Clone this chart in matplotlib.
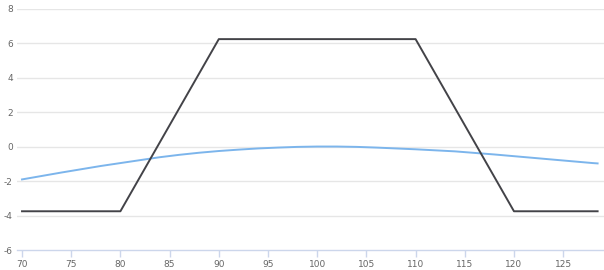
import matplotlib
matplotlib.use("Agg")
import matplotlib.pyplot as plt

# Data
payoff_x = [70, 80, 90, 110, 120, 128.5]
payoff_y = [-3.75, -3.75, 6.25, 6.25, -3.75, -3.75]

value_x = [70, 72, 74, 76, 78, 80, 82, 84, 86, 88, 90, 92, 94, 96, 98, 100,
           102, 104, 106, 108, 110, 112, 114, 116, 118, 120, 122, 124, 126, 128, 128.5]
value_y = [-1.90, -1.70, -1.50, -1.31, -1.12, -0.95, -0.78, -0.61, -0.47, -0.35,
           -0.25, -0.17, -0.10, -0.05, -0.01, 0.01, 0.01, -0.01, -0.05, -0.10,
           -0.15, -0.21, -0.27, -0.36, -0.45, -0.55, -0.65, -0.75, -0.85, -0.95, -0.97]

x_ticks = [70, 75, 80, 85, 90, 95, 100, 105, 110, 115, 120, 125]
y_ticks = [-6, -4, -2, 0, 2, 4, 6, 8]

W, H = 604, 270
fig = plt.figure(figsize=(W / 100, H / 100), dpi=100)
ax = fig.add_axes([17 / W, (H - 250) / H, 1 - 17 / W, (250 - 9) / H])

ax.plot(value_x, value_y, color="#7cb5ec", lw=1.4, zorder=3)
ax.plot(payoff_x, payoff_y, color="#434348", lw=1.4, zorder=4)

ax.set_xlim(69.49, 129.15)
ax.set_ylim(-6, 8)
ax.set_xticks(x_ticks)
ax.set_yticks(y_ticks)
ax.set_xticklabels([str(t) for t in x_ticks])
ax.set_yticklabels([str(t) for t in y_ticks])

for y in y_ticks[1:]:
    ax.axhline(y, color="#e6e6e6", lw=1, zorder=1)

for s in ["top", "right", "left"]:
    ax.spines[s].set_visible(False)
ax.spines["bottom"].set_color("#ccd6eb")
ax.spines["bottom"].set_linewidth(1)

ax.tick_params(axis="x", colors="#ccd6eb", length=5, width=1, labelsize=6.5,
               labelcolor="#666666", pad=2)
ax.tick_params(axis="y", length=0, labelsize=6.5, labelcolor="#666666", pad=3)
ax.set_facecolor("white")

fig.savefig("out.png", dpi=100)
